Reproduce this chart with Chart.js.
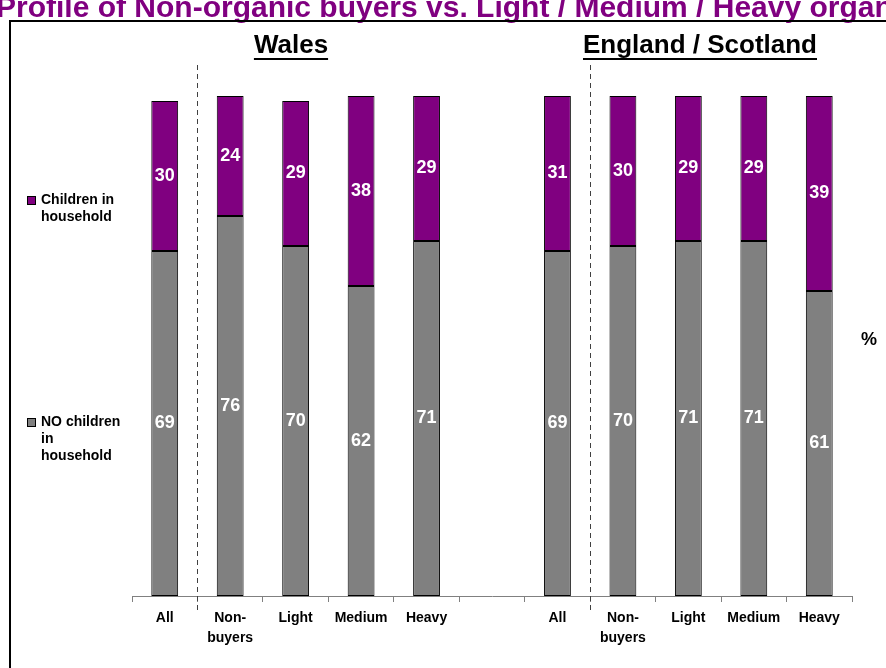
<!DOCTYPE html>
<html>
<head>
<meta charset="utf-8">
<script src="https://cdn.jsdelivr.net/npm/chart.js@4/dist/chart.umd.min.js"></script>
<style>
  html, body { margin: 0; padding: 0; background: #fff; }
  #wrap { width: 886px; height: 668px; position: relative; }
</style>
</head>
<body>
<div id="wrap"><canvas id="chart" width="886" height="668"></canvas></div>
<script>
// Categories: Wales block, empty spacer, England / Scotland block
const categories = ['All', ['Non-', 'buyers'], 'Light', 'Medium', 'Heavy', '',
                    'All', ['Non-', 'buyers'], 'Light', 'Medium', 'Heavy'];
const noChildren = [69, 76, 70, 62, 71, null, 69, 70, 71, 71, 61];
const children   = [30, 24, 29, 38, 29, null, 31, 30, 29, 29, 39];
const groupTitles = ['Wales', 'England / Scotland'];
const legendLines = [['NO children', 'in', 'household'], ['Children in', 'household']];

const FONT = 'Arial, "Liberation Sans", sans-serif';
const PURPLE = '#800080';
const GREY = '#808080';

// frame, title, headings, legend, dashed separators and the % sign
const decorations = {
  id: 'decorations',
  beforeDraw(chart) {
    const ctx = chart.ctx;
    ctx.save();
    ctx.fillStyle = '#fff';
    ctx.fillRect(0, 0, chart.width, chart.height);
    ctx.fillStyle = PURPLE;
    ctx.font = 'bold 30px ' + FONT;
    ctx.textBaseline = 'alphabetic';
    ctx.textAlign = 'left';
    ctx.fillText('Profile of Non-organic buyers vs. Light / Medium / Heavy organic buyers', -4, 17);
    ctx.strokeStyle = '#000';
    ctx.lineWidth = 2;
    ctx.strokeRect(10, 21, chart.width + 20, chart.height + 20);
    ctx.restore();
  },
  afterDraw(chart) {
    const ctx = chart.ctx;
    const x = chart.scales.x;
    ctx.save();

    // section headings, underlined
    ctx.font = 'bold 26px ' + FONT;
    ctx.fillStyle = '#000';
    ctx.textAlign = 'center';
    ctx.textBaseline = 'middle';
    const headX = [291, 700];
    groupTitles.forEach((t, i) => {
      ctx.fillText(t, headX[i], 46);
      const w = ctx.measureText(t).width;
      ctx.fillRect(headX[i] - w / 2, 58, w, 2);
    });

    // dashed separators after each "All" bar
    ctx.strokeStyle = '#404040';
    ctx.lineWidth = 1;
    ctx.setLineDash([5, 4]);
    [0, 6].forEach(i => {
      const px = Math.round((x.getPixelForValue(i) + x.getPixelForValue(i + 1)) / 2) + 0.5;
      ctx.beginPath();
      ctx.moveTo(px, 65);
      ctx.lineTo(px, 613);
      ctx.stroke();
    });
    ctx.setLineDash([]);

    // legend on the left
    ctx.font = 'bold 14px ' + FONT;
    ctx.textAlign = 'left';
    const legendY = [422, 200];
    chart.data.datasets.forEach((ds, i) => {
      const y0 = legendY[i];
      ctx.fillStyle = ds.backgroundColor;
      ctx.fillRect(27, y0 - 4, 9, 9);
      ctx.strokeStyle = '#000';
      ctx.strokeRect(27.5, y0 - 3.5, 8, 8);
      ctx.fillStyle = '#000';
      legendLines[i].forEach((line, j) => ctx.fillText(line, 41, y0 + j * 17));
    });

    ctx.font = 'bold 18px ' + FONT;
    ctx.fillText('%', 861, 340);
    ctx.restore();
  }
};

// value labels in the middle of each segment
const segmentLabels = {
  id: 'segmentLabels',
  afterDatasetsDraw(chart) {
    const ctx = chart.ctx;
    ctx.save();
    ctx.font = 'bold 18px ' + FONT;
    ctx.fillStyle = '#fff';
    ctx.textAlign = 'center';
    ctx.textBaseline = 'middle';
    chart.data.datasets.forEach((ds, di) => {
      chart.getDatasetMeta(di).data.forEach((bar, i) => {
        const v = ds.data[i];
        if (v == null) return;
        ctx.fillText(String(v), bar.x, (bar.y + bar.base) / 2);
      });
    });
    ctx.restore();
  }
};

new Chart(document.getElementById('chart'), {
  type: 'bar',
  data: {
    labels: categories,
    datasets: [
      {
        label: 'NO children in household',
        data: noChildren,
        backgroundColor: GREY,
        borderColor: '#000',
        borderWidth: 1,
        borderSkipped: false
      },
      {
        label: 'Children in household',
        data: children,
        backgroundColor: PURPLE,
        borderColor: '#000',
        borderWidth: 1,
        borderSkipped: false
      }
    ]
  },
  options: {
    responsive: false,
    animation: false,
    categoryPercentage: 1,
    barPercentage: 0.41,
    layout: { padding: { left: 132, right: 34, top: 96, bottom: 12 } },
    plugins: {
      legend: { display: false },
      tooltip: { enabled: false }
    },
    scales: {
      x: {
        stacked: true,
        afterFit(scale) { scale.height = 60; },
        grid: {
          offset: true,
          drawOnChartArea: false,
          drawTicks: true,
          tickLength: 6,
          color: GREY
        },
        border: { display: true, color: GREY, width: 1 },
        ticks: {
          color: '#000',
          padding: 6,
          maxRotation: 0,
          autoSkip: false,
          font: { family: FONT, size: 14, weight: 'bold', lineHeight: 1.45 }
        }
      },
      y: {
        stacked: true,
        display: false,
        min: 0,
        max: 100
      }
    }
  },
  plugins: [decorations, segmentLabels]
});
</script>
</body>
</html>
